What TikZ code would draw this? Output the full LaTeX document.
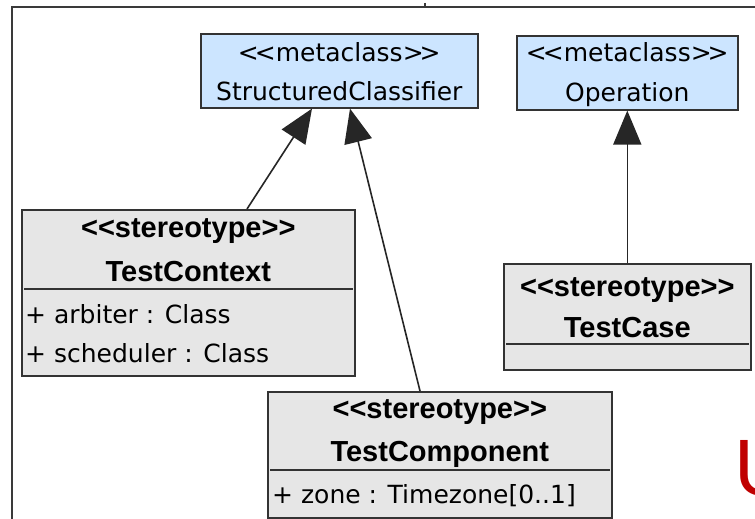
\documentclass[tikz,border=0pt]{standalone}
\usepackage{fontspec}
\usetikzlibrary{arrows.meta,calc}
\setmainfont{DejaVu Sans}
\newfontfamily\hdfont{Liberation Sans}
\newfontfamily\logofont{Liberation Sans}
\definecolor{metafill}{HTML}{CCE5FF}
\definecolor{stereofill}{HTML}{E6E6E6}
\definecolor{boxline}{HTML}{333333}
\definecolor{framecol}{HTML}{3A3A3A}
\definecolor{logored}{HTML}{C00000}
\newcommand{\ltlt}{<\kern-4pt<}
\newcommand{\gtgt}{>\kern-4pt>}
\begin{document}
\begin{tikzpicture}[x=1pt,y=-1pt,
  metabox/.style={draw=boxline,line width=1.6pt,fill=metafill,anchor=north west,inner sep=0pt},
  stereobox/.style={draw=boxline,line width=1.6pt,fill=stereofill,anchor=north west,inner sep=0pt},
  metatext/.style={anchor=base,inner sep=0pt,font=\fontsize{25}{30}\selectfont},
  stereotext/.style={anchor=base,inner sep=0pt,font=\hdfont\bfseries\fontsize{29}{34}\selectfont},
  attr/.style={anchor=base west,inner sep=0pt,font=\fontsize{25}{30}\selectfont},
  sep/.style={draw=boxline,line width=1.4pt},
  gen/.style={draw=black!85,line width=1.6pt,-{Triangle[length=34pt,width=28pt]}},
  frameline/.style={draw=framecol,line width=2.2pt},
]
\useasboundingbox (0,0) rectangle (755,519);
\clip (0,0) rectangle (755,519);
\fill[white] (0,0) rectangle (755,519);

% surrounding frame
\draw[frameline] (12,519) -- (12,7) -- (755,7);
\draw[framecol,line width=2.5pt] (425,3) -- (425,7);

% metaclasses
\node[metabox,minimum width=277pt,minimum height=74pt] (sc) at (200,33) {};
\node[metatext] (sc1) at ([yshift=-29pt]sc.north) {\ltlt metaclass\gtgt};
\node[metatext] (sc2) at ([yshift=-67pt]sc.north) {StructuredClassifier};

\node[metabox,minimum width=221pt,minimum height=74pt] (op) at (516,35) {};
\node[metatext] (op1) at ([yshift=-27pt]op.north) {\ltlt metaclass\gtgt};
\node[metatext] (op2) at ([yshift=-67pt]op.north) {Operation};

% stereotypes
\node[stereobox,minimum width=333pt,minimum height=166pt] (ctx) at (21,209) {};
\node[stereotext] (ctx1) at ([yshift=-28pt]ctx.north) {<<stereotype>>};
\node[stereotext] (ctx2) at ([yshift=-72pt]ctx.north) {TestContext};
\draw[sep] ([shift={(3,80)}]ctx.north west) -- ([shift={(-3,80)}]ctx.north east);
\node[attr] (ctx3) at ([shift={(4,114)}]ctx.north west) {+ arbiter : Class};
\node[attr] (ctx4) at ([shift={(4,153)}]ctx.north west) {+ scheduler : Class};

\node[stereobox,minimum width=247pt,minimum height=106pt] (tc) at (503,263) {};
\node[stereotext] (tc1) at ([yshift=-33pt]tc.north) {<<stereotype>>};
\node[stereotext] (tc2) at ([yshift=-74pt]tc.north) {TestCase};
\draw[sep] ([shift={(3,81)}]tc.north west) -- ([shift={(-3,81)}]tc.north east);

\node[stereobox,minimum width=344pt,minimum height=126pt] (comp) at (267,391) {};
\node[stereotext] (comp1) at ([yshift=-27pt]comp.north) {<<stereotype>>};
\node[stereotext] (comp2) at ([yshift=-70pt]comp.north) {TestComponent};
\draw[sep] ([shift={(3,79)}]comp.north west) -- ([shift={(-3,79)}]comp.north east);
\node[attr] (comp3) at ([shift={(5,112)}]comp.north west) {+ zone : Timezone[0..1]};

% generalizations
\draw[gen] ([xshift=226pt]ctx.north west) -- ([xshift=112pt]sc.south west);
\draw[gen] ([xshift=153pt]comp.north west) -- ([xshift=150pt]sc.south west);
\draw[gen] (tc.north) -- (op.south);

% logo letter running off the right edge
\node[anchor=base west,inner sep=0pt,text=logored,font=\logofont\fontsize{80}{90}\selectfont] (logo) at (734,495) {U};
\end{tikzpicture}
\end{document}
